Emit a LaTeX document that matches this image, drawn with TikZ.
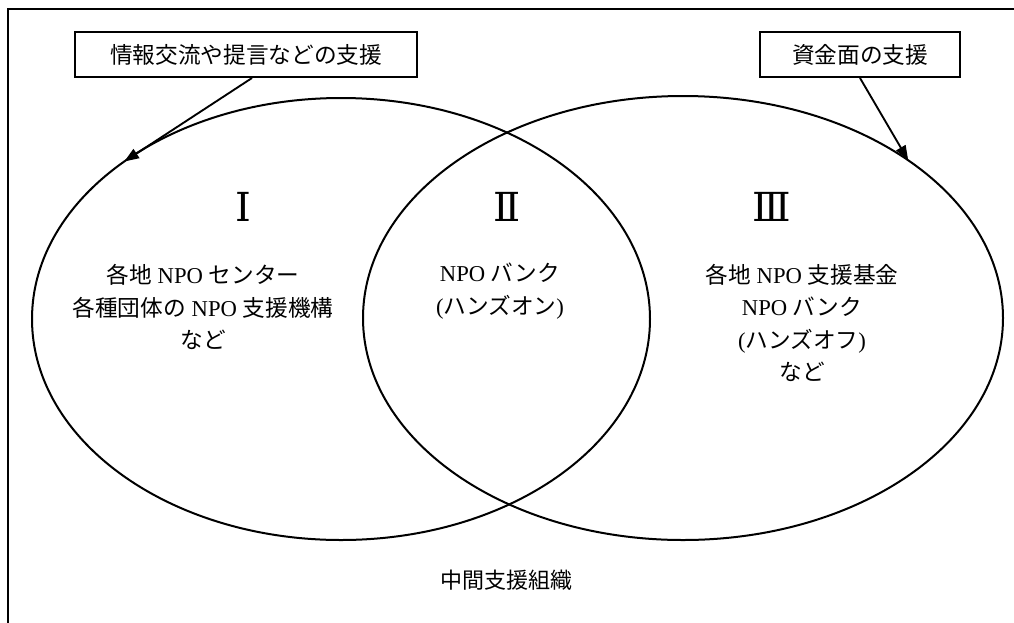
\documentclass[tikz,border=0pt]{standalone}
\usepackage{fontspec}
\setmainfont{Liberation Serif}
\newfontfamily\jp{Noto Sans CJK JP}
\newfontfamily\numfont{DejaVu Serif}
\usetikzlibrary{shapes.geometric,arrows.meta}
\tikzset{
 venn/.style={ellipse, draw, line width=1.5pt, inner sep=0pt, outer sep=0pt},
 labelbox/.style={draw, line width=1.5pt, inner sep=0pt, minimum height=33.75pt, font=\jp\fontsize{17}{20}\selectfont},
 body/.style={align=center, font=\fontsize{17}{24.4}\selectfont},
 numeral/.style={font=\numfont\fontsize{30}{32}\selectfont},
 conn/.style={line width=1.4pt, -{Triangle[length=11pt,width=8pt]}},
 frame/.style={line width=1pt},
}
\begin{document}
\begin{tikzpicture}[x=0.75pt,y=-0.75pt]
\useasboundingbox (0,0) rectangle (1014,622);
\draw[frame] (8,630) -- (8,9) -- (1020,9);
\node[venn, minimum width=463.5pt, minimum height=331.5pt] (L) at (341,319) {};
\node[venn, minimum width=480pt, minimum height=333pt] (R) at (683,318) {};
\node[labelbox, minimum width=256.5pt] (lb) at (246,54.5) {情報交流や提言などの支援};
\node[labelbox, minimum width=150pt] (rb) at (860,54.5) {資金面の支援};
\draw[conn] ([xshift=4.5pt]lb.south) -- (L.144);
\draw[conn] (rb.south) -- (R.35);
\node[numeral] (n1) at (243,207) {Ⅰ};
\node[numeral] (n2) at (507,207) {Ⅱ};
\node[numeral] (n3) at (772,207) {Ⅲ};
\node[body] (t1) at (203,307) {{\jp 各地} NPO {\jp センター}\\{\jp 各種団体の} NPO {\jp 支援機構}\\{\jp など}};
\node[body] (t2) at (500,291) {NPO {\jp バンク}\\({\jp ハンズオン})};
\node[body] (t3) at (802,323) {{\jp 各地} NPO {\jp 支援基金}\\NPO {\jp バンク}\\({\jp ハンズオフ})\\{\jp など}};
\node[font=\jp\fontsize{16.5}{20}\selectfont] (mid) at (506,580) {中間支援組織};
\end{tikzpicture}
\end{document}
